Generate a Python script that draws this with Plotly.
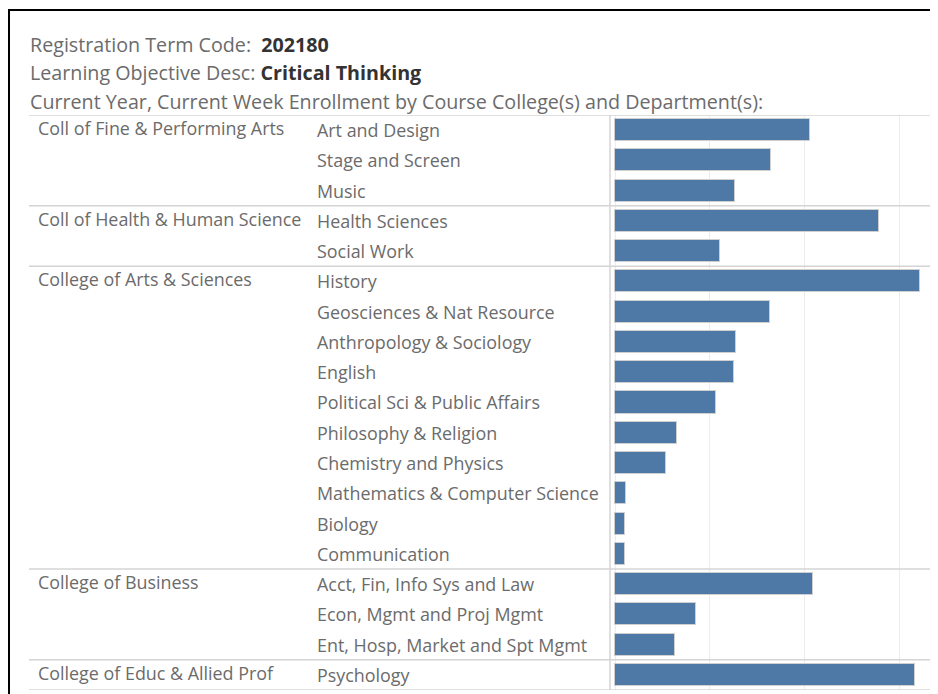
import plotly.graph_objects as go

W, H = 930, 686
OFF = 8  # page body margin

colleges = ["Coll of Fine & Performing Arts", "Coll of Health & Human Science",
            "College of Arts & Sciences", "College of Business", "College of Educ & Allied Prof"]
college_sizes = [3, 2, 10, 3, 1]
departments = ["Art and Design", "Stage and Screen", "Music",
               "Health Sciences", "Social Work",
               "History", "Geosciences & Nat Resource", "Anthropology & Sociology", "English",
               "Political Sci & Public Affairs", "Philosophy & Religion", "Chemistry and Physics",
               "Mathematics & Computer Science", "Biology", "Communication",
               "Acct, Fin, Info Sys and Law", "Econ, Mgmt and Proj Mgmt", "Ent, Hosp, Market and Spt Mgmt",
               "Psychology"]
enrollment = [412, 330, 254, 558, 222, 644, 328, 256, 252, 214, 130, 108, 24, 21, 21, 418, 171, 126, 634]

term_code = "202180"
objective = "Critical Thinking"

FONT = "Open Sans"
GRAY = "#6b6b6b"
DARK = "#333333"

def px(x):
    return (x - OFF) / W

def py(y):
    return 1 - (y - OFF) / H

n = len(departments)
idx = list(range(n))

fig = go.Figure()
fig.add_trace(go.Bar(
    x=enrollment, y=idx, orientation="h", width=0.73,
    marker=dict(color="#4e79a7", line=dict(color="#cfcfcf", width=1)),
    hoverinfo="skip", showlegend=False,
))

annotations = []
hdr = dict(xref="paper", yref="paper", xanchor="left", yanchor="middle", showarrow=False,
           font=dict(family=FONT, size=19.7, color=GRAY))
annotations.append(dict(text=f"Registration Term Code:  <span style='color:{DARK}'><b>{term_code}</b></span>",
                        x=px(28), y=py(44), **hdr))
annotations.append(dict(text=f"Learning Objective Desc: <span style='color:{DARK}'><b>{objective}</b></span>",
                        x=px(28), y=py(72), **hdr))
annotations.append(dict(text="Current Year, Current Week Enrollment by Course College(s) and Department(s):",
                        x=px(28), y=py(101), **hdr))

# department labels
for i, d in enumerate(departments):
    annotations.append(dict(text=d, x=px(315), y=i, xref="paper", yref="y", xanchor="left",
                            yanchor="middle", showarrow=False,
                            font=dict(family=FONT, size=17.9, color=GRAY)))
# college labels
start = 0
boundaries = [-0.5]
for c, s in zip(colleges, college_sizes):
    annotations.append(dict(text=c, x=px(36), y=start - 0.07, xref="paper", yref="y", xanchor="left",
                            yanchor="middle", showarrow=False,
                            font=dict(family=FONT, size=17.9, color=GRAY)))
    start += s
    boundaries.append(start - 0.5)

shapes = []
for b in boundaries:
    shapes.append(dict(type="line", xref="paper", yref="y", x0=px(29), x1=px(935), y0=b, y1=b,
                       line=dict(color="#d4d4d4", width=1.5)))
for xv in (610, 935):
    shapes.append(dict(type="line", xref="paper", yref="y", x0=px(xv), x1=px(xv), y0=-0.5, y1=n - 0.5,
                       line=dict(color="#d4d4d4", width=1.5)))
# outer frame
shapes.append(dict(type="rect", xref="paper", yref="paper", x0=px(9), x1=1.05, y0=-0.05, y1=py(10),
                   line=dict(color="black", width=2)))

fig.update_layout(
    width=W, height=H, margin=dict(l=0, r=0, t=0, b=0),
    paper_bgcolor="white", plot_bgcolor="white",
    xaxis=dict(domain=[px(610), px(935)], range=[-10.6, 675.8], showgrid=True, dtick=200,
               gridcolor="#ececec", gridwidth=1, zeroline=False, showticklabels=False, ticks="",
               fixedrange=True),
    yaxis=dict(domain=[py(690), py(115)], range=[n - 0.5, -0.5], showgrid=False, zeroline=False,
               showticklabels=False, ticks="", fixedrange=True),
    annotations=annotations, shapes=shapes, bargap=0,
)

fig.write_html("out.html")
